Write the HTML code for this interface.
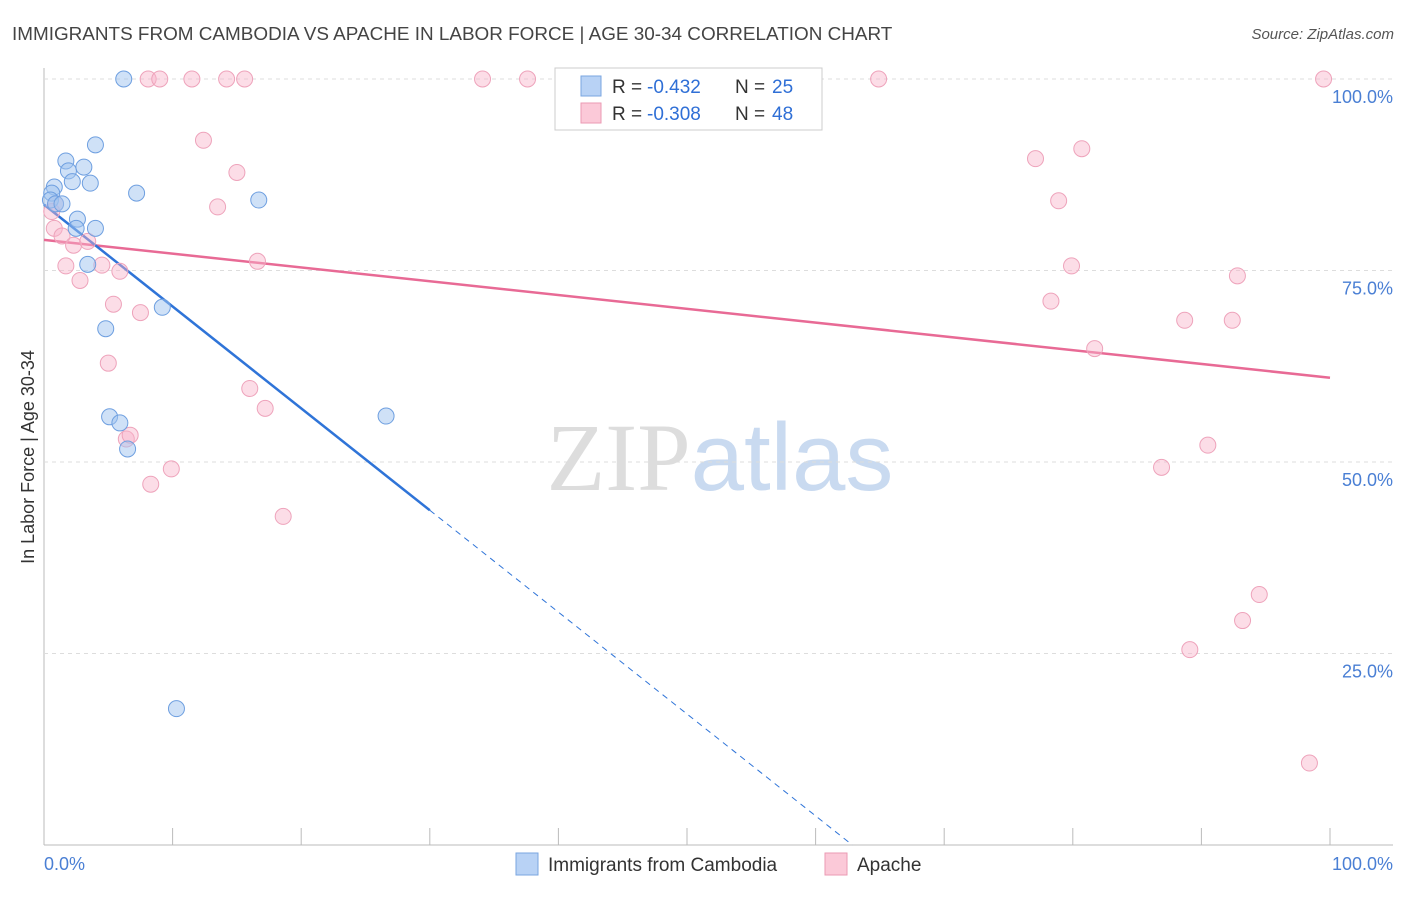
<!DOCTYPE html>
<html><head><meta charset="utf-8">
<style>
body{margin:0;background:#fff;font-family:"Liberation Sans",sans-serif;}
svg text{font-family:"Liberation Sans",sans-serif;}
</style></head>
<body>
<svg id="chart" width="1406" height="892" xmlns="http://www.w3.org/2000/svg">
<text x="12" y="40" font-size="18.9" fill="#444">IMMIGRANTS FROM CAMBODIA VS APACHE IN LABOR FORCE | AGE 30-34 CORRELATION CHART</text>
<text x="1394" y="39" font-size="15" fill="#555" text-anchor="end" font-style="italic">Source: ZipAtlas.com</text>
<text x="720" y="490" font-size="96" text-anchor="middle"><tspan fill="#ddd" font-family="Liberation Serif">ZIP</tspan><tspan fill="#c9daf0">atlas</tspan></text>
<g id="grid"></g>
<g id="ticks"></g>
<text transform="translate(34,457) rotate(-90)" font-size="18" fill="#333" text-anchor="middle">In Labor Force | Age 30-34</text>
<text x="44" y="870" font-size="18" fill="#4a7fd4">0.0%</text>
<text x="1393" y="870" font-size="18" fill="#4a7fd4" text-anchor="end">100.0%</text>
<g id="lines"></g>
<g id="pts"></g>
<g>
<rect x="555" y="68" width="267" height="62" fill="#fff" stroke="#ccc"/>
<rect x="581" y="76" width="20" height="20" fill="#b8d2f5" stroke="#7aa6e0"/>
<rect x="581" y="103" width="20" height="20" fill="#fbc9d8" stroke="#eb9ab3"/>
<text x="612" y="93" font-size="19" fill="#333">R =</text>
<text x="647" y="93" font-size="19" fill="#2f6fd6">-0.432</text>
<text x="735" y="93" font-size="19" fill="#333">N =</text>
<text x="772" y="93" font-size="19" fill="#2f6fd6">25</text>
<text x="612" y="120" font-size="19" fill="#333">R =</text>
<text x="647" y="120" font-size="19" fill="#2f6fd6">-0.308</text>
<text x="735" y="120" font-size="19" fill="#333">N =</text>
<text x="772" y="120" font-size="19" fill="#2f6fd6">48</text>
</g>
<g>
<rect x="516" y="853" width="22" height="22" fill="#b8d2f5" stroke="#7aa6e0"/>
<text x="548" y="871" font-size="19" fill="#333">Immigrants from Cambodia</text></g>
<g>
<rect x="825" y="853" width="22" height="22" fill="#fbc9d8" stroke="#eb9ab3"/>
<text x="857" y="871" font-size="19" fill="#333">Apache</text></g>
</svg>
<script>
const yTicks=[25,50,75,100];
const yTickLabels=["25.0%","50.0%","75.0%","100.0%"];
const xTicks=[10,20,30,40,50,60,70,80,90,100];
const blueX=[6.2,1.7,4.0,1.9,3.1,2.2,3.6,0.8,0.6,7.2,16.7,0.5,0.9,1.4,2.6,2.5,4.0,3.4,9.2,4.8,5.1,5.9,6.5,26.6,10.3];
const blueY=[100,89.3,91.4,88.0,88.5,86.6,86.4,85.9,85.1,85.1,84.2,84.2,83.7,83.7,81.7,80.5,80.5,75.8,70.2,67.4,55.9,55.1,51.7,56.0,17.8];
const pinkX=[8.1,9.0,11.5,14.2,15.6,34.1,37.6,64.9,99.5,12.4,15.0,13.5,77.1,80.7,78.9,0.6,0.9,0.8,1.4,2.3,3.4,1.7,4.5,5.9,2.8,16.6,5.4,7.5,79.9,78.3,92.8,88.7,92.4,5.0,81.7,16.0,17.2,6.4,6.7,9.9,8.3,18.6,86.9,90.5,94.5,93.2,89.1,98.4];
const pinkY=[100,100,100,100,100,100,100,100,100,92.0,87.8,83.3,89.6,90.9,84.1,82.7,83.7,80.5,79.5,78.3,78.8,75.6,75.7,74.9,73.7,76.2,70.6,69.5,75.6,71.0,74.3,68.5,68.5,62.9,64.8,59.6,57.0,53.0,53.5,49.1,47.1,42.9,49.3,52.2,32.7,29.3,25.5,10.7];
const blueFit=[83.6,-1.33];const pinkFit=[79.0,-0.18];
const X=v=>44+v*12.86, Y=v=>845-v*7.66;
const NS="http://www.w3.org/2000/svg";
function mk(t,a,p){const e=document.createElementNS(NS,t);for(const k in a)e.setAttribute(k,a[k]);p.appendChild(e);return e;}
const g=document.getElementById('grid');
mk('line',{x1:44,y1:68,x2:44,y2:845,stroke:'#bbb'},g);
mk('line',{x1:44,y1:845,x2:1393,y2:845,stroke:'#bbb'},g);
yTicks.forEach((t,i)=>{
 const l=mk('line',{x1:44,y1:Y(t),x2:1393,y2:Y(t),stroke:'#ddd','stroke-dasharray':'4,4'},g);
 
 
 const tx=mk('text',{x:1393,y:Y(t)+24,'font-size':18,fill:'#4a7fd4','text-anchor':'end'},g);
 tx.textContent=yTickLabels[i];
 
 
});
const tk=document.getElementById('ticks');
xTicks.forEach(t=>{const l=mk('line',{x1:X(t),y1:828,x2:X(t),y2:845,stroke:'#bbb'},tk);
 
 });
const ln=document.getElementById('lines');
const pinc=[pinkFit[0],pinkFit[0]+pinkFit[1]*100];
const pl=mk('line',{x1:X(0),y1:Y(pinc[0]),x2:X(100),y2:Y(pinc[1]),stroke:'#e86a95','stroke-width':2.5},ln);


const bEnd=30,bZero=-blueFit[0]/blueFit[1];
const bl=mk('line',{x1:X(0),y1:Y(blueFit[0]),x2:X(bEnd),y2:Y(blueFit[0]+blueFit[1]*bEnd),stroke:'#2f74d8','stroke-width':2.5},ln);


const bd=mk('line',{x1:X(bEnd),y1:Y(blueFit[0]+blueFit[1]*bEnd),x2:X(bZero),y2:Y(0),stroke:'#2f74d8','stroke-width':1,'stroke-dasharray':'6,5'},ln);


const P=document.getElementById('pts');
pinkX.forEach((x,i)=>{const c=mk('circle',{cx:X(x),cy:Y(pinkY[i]),r:8,fill:'rgba(248,180,202,0.45)',stroke:'#eea3bb','stroke-width':1},P);
 
 });
blueX.forEach((x,i)=>{const c=mk('circle',{cx:X(x),cy:Y(blueY[i]),r:8,fill:'rgba(160,195,240,0.5)',stroke:'#6e9fe0','stroke-width':1},P);
 
 });
</script>
</body></html>
